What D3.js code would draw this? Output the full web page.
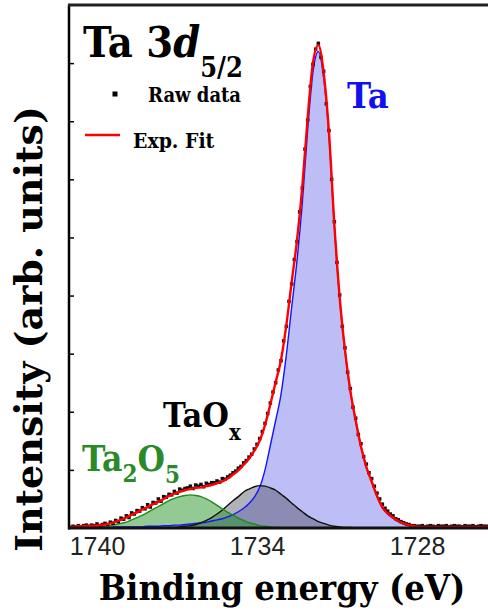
<!DOCTYPE html>
<html>
<head>
<meta charset="utf-8">
<script src="https://cdnjs.cloudflare.com/ajax/libs/d3/7.8.5/d3.min.js"></script>
<style>
  body { margin: 0; background: #fff; }
  svg { display: block; }
  .lbl { font-family: "DejaVu Serif", serif; font-weight: bold; font-stretch: condensed; }
  .wide { font-family: "DejaVu Serif", serif; font-weight: bold; }
</style>
</head>
<body>
<svg id="chart" width="488" height="613"></svg>
<script>
// fit grid (eV)
const fitEnergy = [
  1741.1,1740.9,1740.7,1740.5,1740.3,1740.1,1739.9,1739.7,1739.5,1739.3,
  1739.1,1738.9,1738.7,1738.5,1738.3,1738.1,1737.9,1737.7,1737.5,1737.3,
  1737.1,1736.9,1736.7,1736.5,1736.3,1736.1,1735.9,1735.7,1735.5,1735.3,
  1735.1,1734.9,1734.7,1734.5,1734.3,1734.1,1733.9,1733.7,1733.5,1733.3,
  1733.1,1732.9,1732.7,1732.5,1732.3,1732.1,1731.9,1731.7,1731.5,1731.3,
  1731.1,1730.9,1730.7,1730.5,1730.3,1730.1,1729.9,1729.7,1729.5,1729.3,
  1729.1,1728.9,1728.7,1728.5,1728.3,1728.1,1727.9,1727.7,1727.5,1727.3,
  1727.1,1726.9,1726.7,1726.5,1726.3,1726.1,1725.9,1725.7,1725.5,1725.3
];
const taMetal = [
  0.01,0.01,0.01,0.01,0.01,0.01,0.01,0.01,0.01,0.02,
  0.02,0.02,0.02,0.02,0.02,0.03,0.03,0.03,0.04,0.04,
  0.05,0.05,0.06,0.07,0.08,0.09,0.10,0.12,0.14,0.16,
  0.19,0.23,0.28,0.34,0.42,0.53,0.70,1.00,1.42,1.85,
  2.30,2.98,3.80,4.60,5.60,6.85,7.85,8.20,7.75,6.75,
  5.20,3.95,3.05,2.35,1.85,1.40,1.05,0.80,0.55,0.35,
  0.24,0.17,0.11,0.07,0.04,0.02,0.01,0,0,0,
  0,0,0,0,0,0,0,0,0,0
];
const taOx = [
  0,0,0,0,0,0,0,0,0,0,
  0,0,0,0,0,0,0,0,0,0.01,
  0.01,0.02,0.03,0.04,0.06,0.09,0.13,0.18,0.24,0.31,
  0.39,0.47,0.54,0.62,0.67,0.71,0.73,0.72,0.69,0.65,
  0.58,0.51,0.43,0.35,0.28,0.21,0.16,0.11,0.08,0.05,
  0.03,0.02,0.01,0.01,0,0,0,0,0,0,
  0,0,0,0,0,0,0,0,0,0,
  0,0,0,0,0,0,0,0,0,0
];
const ta2o5 = [
  0,0,0,0.01,0.01,0.01,0.02,0.03,0.04,0.06,
  0.08,0.10,0.14,0.18,0.22,0.27,0.32,0.37,0.42,0.47,
  0.51,0.54,0.56,0.57,0.56,0.54,0.50,0.45,0.39,0.33,
  0.27,0.22,0.17,0.13,0.09,0.07,0.04,0.03,0.02,0.01,
  0.01,0,0,0,0,0,0,0,0,0,
  0,0,0,0,0,0,0,0,0,0,
  0,0,0,0,0,0,0,0,0,0,
  0,0,0,0,0,0,0,0,0,0
];
const expFit = [
  0.02,0.02,0.03,0.03,0.04,0.04,0.05,0.06,0.08,0.11,
  0.14,0.18,0.23,0.27,0.32,0.36,0.41,0.45,0.50,0.55,
  0.59,0.62,0.65,0.67,0.69,0.70,0.72,0.74,0.77,0.80,
  0.85,0.92,0.99,1.09,1.19,1.33,1.50,1.77,2.13,2.51,
  2.89,3.49,4.23,4.95,5.88,7.06,8.01,8.31,7.83,6.80,
  5.23,3.97,3.06,2.36,1.85,1.40,1.05,0.80,0.55,0.36,
  0.25,0.18,0.12,0.08,0.05,0.03,0.02,0.02,0.02,0.02,
  0.02,0.02,0.02,0.02,0.02,0.02,0.02,0.02,0.02,0.02
];
// raw data
const rawEnergy = [
  1741.1,1741.0,1740.9,1740.8,1740.7,1740.6,1740.5,1740.4,1740.3,1740.2,
  1740.1,1740.0,1739.9,1739.8,1739.7,1739.6,1739.5,1739.4,1739.3,1739.2,
  1739.1,1739.0,1738.9,1738.8,1738.7,1738.6,1738.5,1738.4,1738.3,1738.2,
  1738.1,1738.0,1737.9,1737.8,1737.7,1737.6,1737.5,1737.4,1737.3,1737.2,
  1737.1,1737.0,1736.9,1736.8,1736.7,1736.6,1736.5,1736.4,1736.3,1736.2,
  1736.1,1736.0,1735.9,1735.8,1735.7,1735.6,1735.5,1735.4,1735.3,1735.2,
  1735.1,1735.0,1734.9,1734.8,1734.7,1734.6,1734.5,1734.4,1734.3,1734.2,
  1734.1,1734.0,1733.9,1733.8,1733.7,1733.6,1733.5,1733.4,1733.3,1733.2,
  1733.1,1733.0,1732.9,1732.8,1732.7,1732.6,1732.5,1732.4,1732.3,1732.2,
  1732.1,1732.0,1731.9,1731.8,1731.7,1731.6,1731.5,1731.4,1731.3,1731.2,
  1731.1,1731.0,1730.9,1730.8,1730.7,1730.6,1730.5,1730.4,1730.3,1730.2,
  1730.1,1730.0,1729.9,1729.8,1729.7,1729.6,1729.5,1729.4,1729.3,1729.2,
  1729.1,1729.0,1728.9,1728.8,1728.7,1728.6,1728.5,1728.4,1728.3,1728.2,
  1728.1,1728.0,1727.9,1727.8,1727.7,1727.6,1727.5,1727.4,1727.3,1727.2,
  1727.1,1727.0,1726.9,1726.8,1726.7,1726.6,1726.5,1726.4,1726.3,1726.2,
  1726.1,1726.0,1725.9,1725.8,1725.7,1725.6,1725.5,1725.4
];
const rawCounts = [
  0.03,0.01,0.03,0.02,0.04,0.02,0.04,0.05,0.03,0.05,
  0.04,0.07,0.04,0.06,0.08,0.06,0.10,0.08,0.13,0.11,
  0.17,0.15,0.21,0.18,0.26,0.24,0.30,0.29,0.35,0.33,
  0.40,0.36,0.44,0.43,0.50,0.46,0.54,0.53,0.58,0.57,
  0.63,0.60,0.67,0.65,0.68,0.69,0.72,0.68,0.74,0.72,
  0.75,0.71,0.77,0.75,0.78,0.78,0.81,0.79,0.85,0.84,
  0.88,0.91,0.95,0.98,1.03,1.06,1.12,1.16,1.22,1.27,
  1.36,1.44,1.54,1.66,1.80,1.97,2.15,2.34,2.50,2.72,
  2.88,3.22,3.47,3.90,4.20,4.62,4.93,5.44,5.85,6.52,
  7.02,7.60,7.98,8.24,8.34,8.10,7.86,7.30,6.84,6.00,
  5.27,4.57,4.01,3.47,3.10,2.68,2.40,2.08,1.89,1.61,
  1.45,1.23,1.10,0.95,0.85,0.72,0.60,0.50,0.41,0.34,
  0.29,0.24,0.21,0.16,0.14,0.11,0.09,0.07,0.06,0.04,
  0.04,0.03,0.03,0.04,0.02,0.03,0.04,0.03,0.02,0.04,
  0.03,0.03,0.04,0.02,0.03,0.04,0.03,0.03,0.02,0.04,
  0.03,0.03,0.04,0.02,0.03,0.04,0.03,0.03
];
const xTicks = [1740, 1734, 1728];
const yTicks = [1, 2, 3, 4, 5, 6, 7, 8];

const svg = d3.select("#chart");
const plot = { left: 69, right: 488, top: 5, bottom: 528 };

const x = d3.scaleLinear().domain([1740, 1728]).range([97, 417]);
const y = d3.scaleLinear().domain([0, 9]).range([528, 5]);

svg.append("rect").attr("width", 488).attr("height", 613).attr("fill", "#fff");

svg.append("defs").append("clipPath").attr("id", "clip")
  .append("rect")
  .attr("x", plot.left + 1).attr("y", plot.top)
  .attr("width", plot.right - plot.left).attr("height", plot.bottom - plot.top);

const g = svg.append("g").attr("clip-path", "url(#clip)");

const pts = vals => vals.map((v, i) => ({ e: fitEnergy[i], v: v }));
const area = d3.area().x(d => x(d.e)).y0(y(0)).y1(d => y(d.v)).curve(d3.curveMonotoneX);
const line = d3.line().x(d => x(d.e)).y(d => y(d.v)).curve(d3.curveMonotoneX);

const comps = [
  { vals: taMetal, fill: "#bebef6", stroke: "#1414ff" },
  { vals: taOx, fill: "rgba(70,70,85,0.42)", stroke: "#111" },
  { vals: ta2o5, fill: "rgba(40,150,40,0.5)", stroke: "#1c8a1c" }
];

comps.forEach(c => {
  g.append("path").datum(pts(c.vals)).attr("d", area).attr("fill", c.fill);
});
comps.forEach(c => {
  g.append("path").datum(pts(c.vals)).attr("d", line)
    .attr("fill", "none").attr("stroke", c.stroke).attr("stroke-width", 1.4);
});

g.selectAll(".raw")
  .data(rawCounts.map((v, i) => ({ e: rawEnergy[i], v: v })))
  .join("rect")
  .attr("class", "raw")
  .attr("x", d => x(d.e) - 1.75)
  .attr("y", d => y(d.v) - 1.75)
  .attr("width", 3.5).attr("height", 3.5)
  .attr("fill", "#111");

g.append("path").datum(pts(expFit)).attr("d", line)
  .attr("fill", "none").attr("stroke", "#ff0000").attr("stroke-width", 2.4);

// axes
const yAxis = svg.append("g")
  .attr("transform", `translate(${plot.left},0)`)
  .call(d3.axisRight(y).tickValues(yTicks).tickSize(5).tickFormat(""));
yAxis.select(".domain").remove();
yAxis.selectAll("line").attr("stroke", "#000").attr("stroke-width", 1.5);

const xAxis = svg.append("g")
  .attr("transform", `translate(0,${plot.bottom})`)
  .call(d3.axisBottom(x).tickValues(xTicks).tickSize(0).tickPadding(9).tickFormat(d3.format("d")));
xAxis.select(".domain").remove();
xAxis.selectAll("text")
  .attr("font-family", "'Liberation Sans', Arial, sans-serif")
  .attr("font-size", 25).attr("fill", "#222");

// frame
svg.append("line").attr("x1", plot.left).attr("x2", plot.left)
  .attr("y1", plot.top).attr("y2", plot.bottom + 1.5)
  .attr("stroke", "#000").attr("stroke-width", 2.5);
svg.append("line").attr("x1", plot.left - 1).attr("x2", plot.right)
  .attr("y1", plot.top).attr("y2", plot.top)
  .attr("stroke", "#222").attr("stroke-width", 3);
svg.append("line").attr("x1", plot.left - 1).attr("x2", plot.right)
  .attr("y1", plot.bottom).attr("y2", plot.bottom)
  .attr("stroke", "#111").attr("stroke-width", 3);

// title
const title = svg.append("text").attr("class", "lbl").attr("x", 83).attr("y", 57).attr("font-size", 43).attr("fill", "#000");
title.append("tspan").text("Ta 3");
title.append("tspan").attr("font-style", "italic").text("d");
title.append("tspan").attr("font-size", 27).attr("dy", 20).text("5/2");

// legend
svg.append("rect").attr("x", 112.5).attr("y", 91.5).attr("width", 5).attr("height", 5).attr("fill", "#000");
svg.append("text").attr("class", "lbl").attr("x", 148).attr("y", 102).attr("font-size", 20).text("Raw data");
svg.append("line").attr("x1", 85).attr("x2", 120).attr("y1", 135).attr("y2", 135)
  .attr("stroke", "#ff0000").attr("stroke-width", 2.5);
svg.append("text").attr("class", "lbl").attr("x", 133).attr("y", 148).attr("font-size", 21).text("Exp. Fit");

// peak labels
svg.append("text").attr("class", "lbl").attr("x", 347).attr("y", 108).attr("font-size", 36)
  .attr("fill", "#1010f0").text("Ta");

const ox = svg.append("text").attr("class", "lbl").attr("x", 163).attr("y", 427).attr("font-size", 34).attr("fill", "#000");
ox.append("tspan").text("TaO");
ox.append("tspan").attr("font-size", 22).attr("dy", 13).text("x");

const o5 = svg.append("text").attr("class", "lbl").attr("x", 82).attr("y", 471).attr("font-size", 35).attr("fill", "#2a8a2a");
o5.append("tspan").text("Ta");
o5.append("tspan").attr("font-size", 24).attr("dy", 11).text("2");
o5.append("tspan").attr("dy", -11).text("O");
o5.append("tspan").attr("font-size", 24).attr("dy", 12).text("5");

// axis titles
svg.append("text").attr("class", "lbl").attr("x", 282).attr("y", 600)
  .attr("text-anchor", "middle").attr("font-size", 36).text("Binding energy (eV)");
svg.append("text").attr("class", "wide")
  .attr("transform", "translate(42,329) rotate(-90)")
  .attr("text-anchor", "middle").attr("font-size", 38).text("Intensity (arb. units)");
</script>
</body>
</html>
